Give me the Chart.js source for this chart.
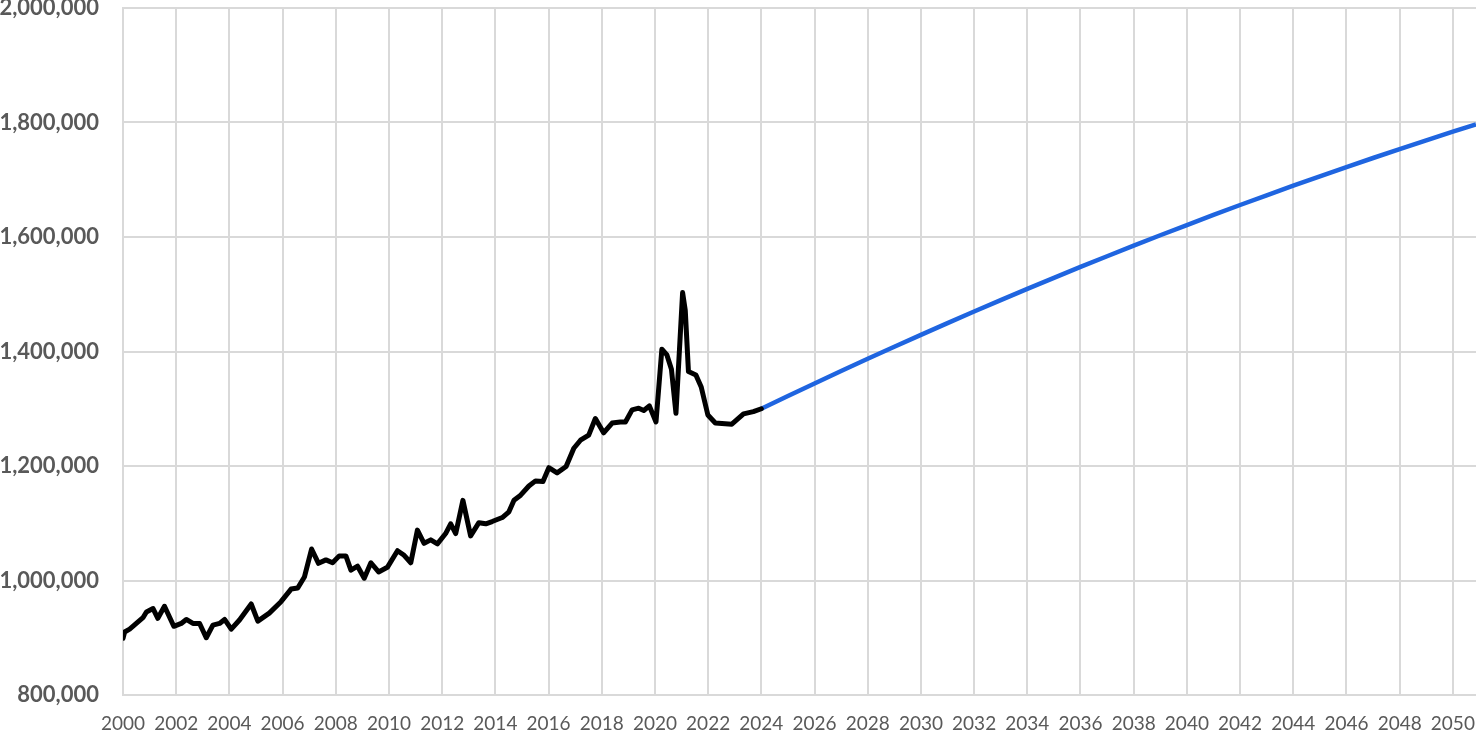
<!DOCTYPE html>
<html>
<head>
<meta charset="utf-8">
<script src="https://cdn.jsdelivr.net/npm/chart.js@4.4.0/dist/chart.umd.min.js"></script>
<style>
  html, body { margin: 0; padding: 0; background: #fff; }
  #wrap { width: 1476px; height: 736px; position: relative; }
</style>
</head>
<body>
<div id="wrap"><canvas id="chart"></canvas></div>
<script>
// history (decimal year, value)
let histYears = [
    2000.0, 2000.06, 2000.25, 2000.5, 2000.75, 2000.88, 2001.13, 2001.31, 2001.56, 2001.91,
    2002.19, 2002.38, 2002.63, 2002.88, 2003.13, 2003.38, 2003.63, 2003.82, 2004.07, 2004.38,
    2004.82, 2005.07, 2005.5, 2005.94, 2006.32, 2006.57, 2006.82, 2007.09, 2007.35, 2007.63,
    2007.88, 2008.13, 2008.38, 2008.57, 2008.82, 2009.07, 2009.32, 2009.61, 2009.94, 2010.32,
    2010.57, 2010.82, 2011.07, 2011.32, 2011.57, 2011.82, 2012.13, 2012.32, 2012.51, 2012.78,
    2013.07, 2013.38, 2013.64, 2013.88, 2014.26, 2014.51, 2014.70, 2014.95, 2015.26, 2015.51,
    2015.79, 2016.01, 2016.32, 2016.66, 2016.95, 2017.20, 2017.51, 2017.76, 2018.07, 2018.39,
    2018.70, 2018.89, 2019.14, 2019.39, 2019.58, 2019.79, 2020.04, 2020.26, 2020.45, 2020.62,
    2020.79, 2021.04, 2021.14, 2021.26, 2021.54, 2021.74, 2021.99, 2022.27, 2022.89, 2023.33,
    2023.70, 2024.0
];
let histValues = [
    899000, 910000, 915000, 925000, 935000, 945000, 951000, 934000, 955000, 920000,
    925000, 932000, 925000, 925000, 900000, 922000, 925000, 932000, 915000, 931000,
    959000, 929000, 943000, 963000, 985000, 987000, 1006000, 1055000, 1030000, 1036000,
    1031000, 1043000, 1043000, 1018000, 1025000, 1004000, 1031000, 1015000, 1023000, 1052000,
    1044000, 1031000, 1088000, 1065000, 1071000, 1064000, 1082000, 1099000, 1082000, 1140000,
    1078000, 1101000, 1099000, 1103000, 1110000, 1120000, 1140000, 1149000, 1165000, 1174000,
    1173000, 1197000, 1188000, 1199000, 1231000, 1245000, 1254000, 1283000, 1258000, 1275000,
    1277000, 1277000, 1298000, 1301000, 1297000, 1305000, 1277000, 1404000, 1394000, 1369000,
    1292000, 1503000, 1472000, 1365000, 1359000, 1338000, 1289000, 1275000, 1273000, 1291000,
    1295000, 1300000
];

// projection
let projYears = [
    2024, 2025, 2026, 2027, 2028, 2029, 2030, 2031, 2032, 2033, 2034, 2035, 2036, 2037,
    2038, 2039, 2040, 2041, 2042, 2043, 2044, 2045, 2046, 2047, 2048, 2049, 2050, 2050.87
];
let projValues = [
    1300000, 1322200, 1344200, 1365800, 1387200, 1408300, 1429100, 1449600, 1469800, 1489700,
    1509300, 1528600, 1547700, 1566400, 1584900, 1603100, 1620900, 1638500, 1655900, 1672900,
    1689600, 1706100, 1722200, 1738000, 1753600, 1768900, 1783900, 1796500
];

const gridColor = '#d9d9d9';
const textColor = '#595959';

new Chart(document.getElementById('chart'), {
    type: 'line',
    data: {
        datasets: [
            {
                label: 'history',
                data: histYears.map((x, i) => ({ x: x, y: histValues[i] })),
                borderColor: '#000000',
                borderWidth: 5,
                pointRadius: 0,
                tension: 0,
                borderJoinStyle: 'round',
                borderCapStyle: 'round',
            },
            {
                label: 'projection',
                data: projYears.map((x, i) => ({ x: x, y: projValues[i] })),
                borderColor: '#1f65e0',
                borderWidth: 4.5,
                pointRadius: 0,
                tension: 0,
                borderJoinStyle: 'round',
            }
        ]
    },
    options: {
        responsive: true,
        maintainAspectRatio: false,
        animation: false,
        layout: { padding: 0 },
        plugins: {
            legend: { display: false },
            tooltip: { enabled: false },
        },
        scales: {
            x: {
                type: 'linear',
                min: 2000,
                max: 2050.87,
                afterBuildTicks: (scale) => {
                    scale.ticks = scale.ticks.filter(t => Number.isInteger(t.value) && t.value % 2 === 0);
                },
                afterFit: (scale) => {
                    scale.height = 41;
                    scale.paddingRight = 0;
                },
                ticks: {
                    stepSize: 2,
                    includeBounds: false,
                    autoSkip: false,
                    maxRotation: 0,
                    padding: 17,
                    color: textColor,
                    font: { family: 'Lato', size: 19 },
                    callback: (v) => String(v),
                },
                grid: { color: gridColor, lineWidth: 2, drawTicks: false },
                border: { color: gridColor, width: 2 },
            },
            y: {
                min: 800000,
                max: 2000000,
                afterFit: (scale) => {
                    scale.width = 123;
                    scale.paddingTop = 8;
                    scale.paddingBottom = 8;
                },
                ticks: {
                    stepSize: 200000,
                    padding: 24,
                    color: textColor,
                    font: { family: 'Lato', size: 22, weight: 'bold', lineHeight: 0.8 },
                    callback: (v) => v.toLocaleString('en-US'),
                },
                grid: { color: gridColor, lineWidth: 2, drawTicks: false },
                border: { color: gridColor, width: 2 },
            }
        },
    }
});
</script>
</body>
</html>
